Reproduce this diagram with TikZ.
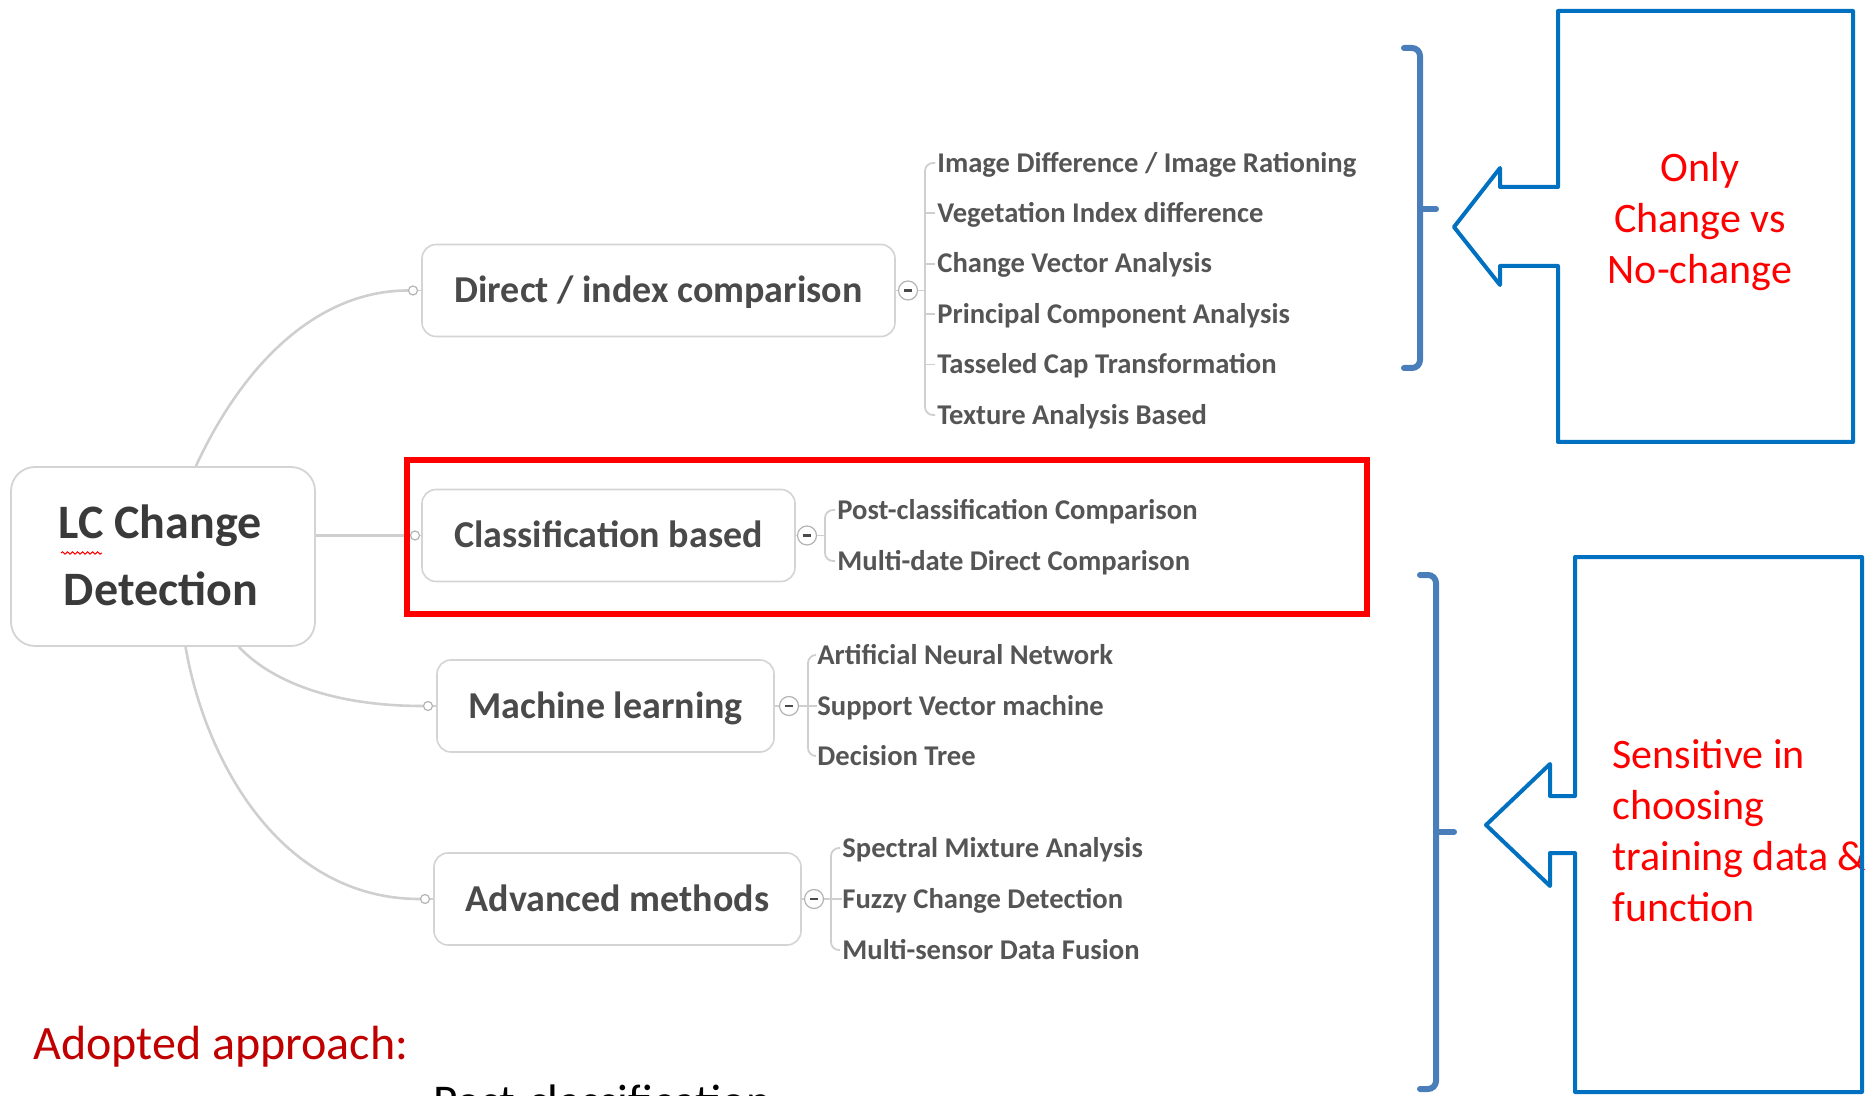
\documentclass[tikz,border=0pt]{standalone}
\usepackage{fontspec}
\setmainfont{Carlito}
\usetikzlibrary{calc,decorations.pathmorphing}
\definecolor{mmtext}{HTML}{4A4A4A}
\definecolor{leaftext}{HTML}{555555}
\definecolor{roottext}{HTML}{3A3A3A}
\definecolor{mmbox}{HTML}{D4D4D4}
\definecolor{mmline}{HTML}{CFCFCF}
\definecolor{calblue}{HTML}{0070C0}
\definecolor{brblue}{HTML}{4A7EBB}
\definecolor{darkred}{HTML}{C00000}
\begin{document}
\begin{tikzpicture}[x=0.5pt,y=-0.5pt,
  capline/.style={inner sep=0pt, text height=#1, text depth=0pt},
  capline/.default=10pt,
  topicbox/.style={draw=mmbox, line width=0.8pt, rounded corners=7pt, fill=white, text=mmtext,
    font=\fontsize{19}{23}\selectfont\bfseries, capline=12.2pt, minimum height=46pt},
  rootbox/.style={draw=mmbox, line width=0.9pt, rounded corners=12pt, fill=white,
    minimum width=152pt, minimum height=89.5pt},
  roottxt/.style={capline=15.5pt, text=roottext, font=\fontsize{24}{30}\selectfont\bfseries},
  leaf/.style={capline=9.2pt, anchor=west, text=leaftext, font=\fontsize{14.3}{17}\selectfont\bfseries},
  dot/.style={circle, draw=mmbox!85!black, fill=white, line width=0.6pt, minimum size=4.5pt, inner sep=0pt},
  fold/.style={circle, draw=mmbox!85!black, fill=white, line width=0.6pt, minimum size=9.5pt, inner sep=0pt},
  minus/.style={draw=mmtext, line width=1.3pt},
  conn/.style={draw=mmline, line width=1.3pt},
  twig/.style={draw=mmline, line width=0.9pt},
  callout/.style={draw=calblue, line width=2pt, line join=round},
  bracestyle/.style={draw=brblue, line width=3pt, line cap=round},
  redtext/.style={text=red, font=\fontsize{21}{25.5}\selectfont, inner sep=0pt}
]
\useasboundingbox (0,0) rectangle (1874,1096);
\clip (0,0) rectangle (1874,1096);

% ---------- root ----------
\node[rootbox] (root) at (163,556.5) {};
\node[roottxt] (rootA) at (160,523) {LC Change};
\node[roottxt] (rootB) at (161,589.5) {Detection};
\draw[red, line width=0.5pt, decorate, decoration={snake, amplitude=0.6pt, segment length=2.5pt}] (61,553) -- (102,553);

% ---------- topics ----------
\node[topicbox, minimum width=236.5pt] (direct) at (658.5,290.5) {Direct / index comparison};
\node[topicbox, minimum width=186.5pt] (classif) at (608.5,535.5) {Classification based};
\node[topicbox, minimum width=168.5pt] (ml) at (605.5,706) {Machine learning};
\node[topicbox, minimum width=183.5pt] (adv) at (617.5,899) {Advanced methods};

% entry dots
\node[dot] (ddir) at (413,290.5) {};
\node[dot] (dcl) at (415,535.5) {};
\node[dot] (dml) at (428,706) {};
\node[dot] (dadv) at (425,899) {};
\draw[twig] (ddir) -- (direct.west);
\draw[twig] (dcl) -- (classif.west);
\draw[twig] (dml) -- (ml.west);
\draw[twig] (dadv) -- (adv.west);

% root connectors
\draw[conn] (root.70) .. controls (245,360) and (320,290.5) .. (ddir);
\draw[conn] (root.east |- dcl) -- (dcl);
\draw[conn] (root.-50) .. controls (270,680) and (330,706) .. (dml);
\draw[conn] (root.-76) .. controls (205,760) and (280,899) .. (dadv);

% fold circles
\node[fold] (fdir) at (908,290.5) {};
\node[fold] (fcl) at (807,535.5) {};
\node[fold] (fml) at (789,706) {};
\node[fold] (fadv) at (814,899) {};
\foreach \f in {fdir,fcl,fml,fadv}{
  \draw[minus] ($(\f)+(-4,0)$) -- ($(\f)+(4,0)$);
}
\draw[twig] (direct.east) -- (fdir);
\draw[twig] (classif.east) -- (fcl);
\draw[twig] (ml.east) -- (fml);
\draw[twig] (adv.east) -- (fadv);

% ---------- leaves: direct ----------
\node[leaf] (d1) at (937,163) {Image Difference / Image Rationing};
\node[leaf] (d2) at (937,213.4) {Vegetation Index difference};
\node[leaf] (d3) at (937,263.8) {Change Vector Analysis};
\node[leaf] (d4) at (937,314.2) {Principal Component Analysis};
\node[leaf] (d5) at (937,364.6) {Tasseled Cap Transformation};
\node[leaf] (d6) at (937,415) {Texture Analysis Based};
\coordinate (bdir) at (925,290.5);
\draw[twig, rounded corners=4pt, shorten <=1pt, shorten >=1pt] (d1.west) -| (bdir) |- (d6.west);
\foreach \n in {d2,d3,d4,d5}{\draw[twig, shorten >=1pt] (bdir |- \n.west) -- (\n.west);}
\draw[twig] (fdir) -- (bdir);

% ---------- leaves: classification ----------
\node[leaf] (c1) at (837,510) {Post-classification Comparison};
\node[leaf] (c2) at (837,561) {Multi-date Direct Comparison};
\coordinate (bcl) at (825,535.5);
\draw[twig, rounded corners=4pt, shorten <=1pt, shorten >=1pt] (c1.west) -| (bcl) |- (c2.west);
\draw[twig] (fcl) -- (bcl);

% ---------- leaves: machine learning ----------
\node[leaf] (m1) at (817,655) {Artificial Neural Network};
\node[leaf] (m2) at (817,706) {Support Vector machine};
\node[leaf] (m3) at (817,756) {Decision Tree};
\coordinate (bml) at (808,706);
\draw[twig, rounded corners=4pt, shorten <=1pt, shorten >=1pt] (m1.west) -| (bml) |- (m3.west);
\draw[twig] (fml) -- (m2.west);

% ---------- leaves: advanced ----------
\node[leaf] (a1) at (842,848) {Spectral Mixture Analysis};
\node[leaf] (a2) at (842,899) {Fuzzy Change Detection};
\node[leaf] (a3) at (842,950) {Multi-sensor Data Fusion};
\coordinate (badv) at (831,899);
\draw[twig, rounded corners=4pt, shorten <=1pt, shorten >=1pt] (a1.west) -| (badv) |- (a3.west);
\draw[twig] (fadv) -- (a2.west);

% ---------- red highlight ----------
\node[draw=red, line width=2.7pt, minimum width=480pt, minimum height=77pt, inner sep=0pt] (hl) at (887,537) {};

% ---------- upper brace + callout ----------
\draw[bracestyle] (1404,48) -- (1412,48) to[out=0,in=90] (1420,56) -- (1420,360) to[out=-90,in=0] (1412,368) -- (1404,368);
\draw[bracestyle] (1420,209) -- (1436,209);
\node[redtext, align=center] (t1) at (1700,222) {Only\\Change vs\\No-change};
\draw[callout] (1558,187) -- (1558,11) -- (1853,11) -- (1853,442) -- (1558,442) -- (1558,266)
  -- (1500,266) -- (1500,285) -- (1454,227) -- (1500,168) -- (1500,187) -- cycle;

% ---------- lower brace + callout ----------
\draw[bracestyle] (1420,575) -- (1428,575) to[out=0,in=90] (1436,583) -- (1436,1081) to[out=-90,in=0] (1428,1089) -- (1420,1089);
\draw[bracestyle] (1436,832) -- (1454,832);
\node[redtext, align=left, anchor=west] (t2) at (1612,831) {Sensitive in\\choosing\\training data \&\\function};
\draw[callout] (1575,796) -- (1575,557) -- (1862,557) -- (1862,1092) -- (1575,1092) -- (1575,853)
  -- (1550,853) -- (1550,886) -- (1486,825) -- (1550,764) -- (1550,796) -- cycle;

% ---------- bottom texts ----------
\node[capline=15.5pt, anchor=west, text=darkred, font=\fontsize{24}{28}\selectfont] (adopt) at (33,1044) {Adopted approach:};
\node[capline=15.1pt, anchor=west, text=black, font=\fontsize{23.5}{28}\selectfont] (post) at (433,1102) {Post-classification:};
\end{tikzpicture}
\end{document}
